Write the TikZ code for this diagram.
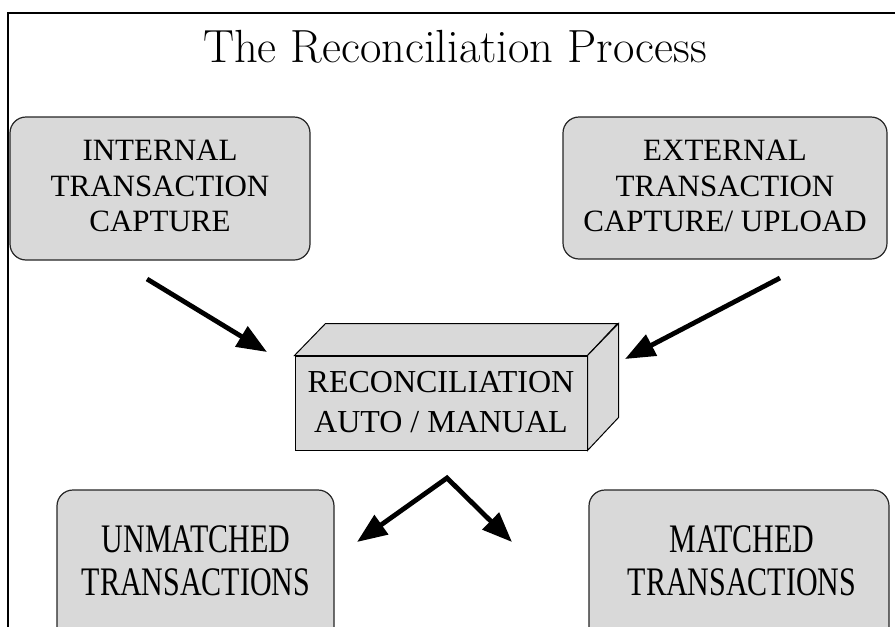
\documentclass[tikz,border=0pt]{standalone}
\usepackage{fontspec}
\usepackage{graphicx}
\newfontfamily\boxfont{Liberation Serif}
\usetikzlibrary{arrows.meta}
\definecolor{boxgray}{RGB}{217,217,217}
\begin{document}
\begin{tikzpicture}[x=1pt,y=-1pt,
  rbox/.style={draw=black!85, line width=1.2pt, fill=boxgray, rounded corners=16pt, inner sep=0pt},
  cubeface/.style={draw=black, line width=1pt, fill=boxgray},
  lbl/.style={font=\boxfont\fontsize{31}{35.5}\selectfont, align=center, inner sep=0pt},
  blbl/.style={font=\boxfont\fontsize{30}{32}\selectfont, inner sep=0pt},
  clbl/.style={font=\boxfont\fontsize{32}{40}\selectfont, align=center, inner sep=0pt},
  bigarrow/.style={line width=4.8pt, -{Triangle[length=30pt,width=23pt]}},
  frameline/.style={line width=2pt, draw=black},
]
\useasboundingbox (0,0) rectangle (895,627);
\clip (0,0) rectangle (895,627);
\fill[white] (0,0) rectangle (895,627);

% frame
\coordinate (fbl) at (8,640);
\coordinate (ftl) at (8,13);
\coordinate (ftr) at (895,13);
\draw[frameline] (fbl) -- (ftl) -- (ftr);

% title
\node[anchor=base, inner sep=0pt, font=\fontsize{46.5}{50}\selectfont] (title) at (455,62) {The Reconciliation Process};

% top boxes
\node[rbox, minimum width=300pt, minimum height=143pt] (int) at (160,188.5) {};
\node[lbl] (intl) at (160,186) {INTERNAL\\TRANSACTION\\CAPTURE};
\node[rbox, minimum width=324pt, minimum height=142pt] (ext) at (725,188) {};
\node[lbl] (extl) at (725,186) {EXTERNAL\\TRANSACTION\\CAPTURE/ UPLOAD};

% central 3D box
\node[cubeface, minimum width=292pt, minimum height=94pt, inner sep=0pt] (rec) at (441,403) {};
\draw[cubeface] (rec.north west) -- ++(31,-32) -- ++(292,0) -- (rec.north east) -- cycle;
\draw[cubeface] (rec.north east) -- ++(31,-32) -- ++(0,94) -- (rec.south east) -- cycle;
\node[clbl] (recl) at (441,402) {RECONCILIATION\\AUTO / MANUAL};

% bottom boxes (cut off by the page edge)
\node[rbox, minimum width=277pt, minimum height=200pt] (unm) at (195.5,590) {};
\node[blbl] (unml) at (196,565) {\scalebox{1}[1.35]{\begin{tabular}{@{}c@{}}UNMATCHED\\TRANSACTIONS\end{tabular}}};
\node[rbox, minimum width=300pt, minimum height=200pt] (mat) at (739,590) {};
\node[blbl] (matl) at (742,565) {\scalebox{1}[1.35]{\begin{tabular}{@{}c@{}}MATCHED\\TRANSACTIONS\end{tabular}}};

% arrows
\coordinate (a1s) at (147,279);
\coordinate (a1e) at (267,352);
\coordinate (a2s) at (780,278);
\coordinate (a2e) at (625,359);
\coordinate (apex) at (447,478);
\coordinate (a3l) at (357,542);
\coordinate (a3r) at (512,542);
\draw[bigarrow] (a1s) -- (a1e);
\draw[bigarrow] (a2s) -- (a2e);
\draw[line width=4.8pt, line join=miter, {Triangle[length=30pt,width=23pt]}-{Triangle[length=30pt,width=23pt]}] (a3l) -- (apex) -- (a3r);
\end{tikzpicture}
\end{document}
